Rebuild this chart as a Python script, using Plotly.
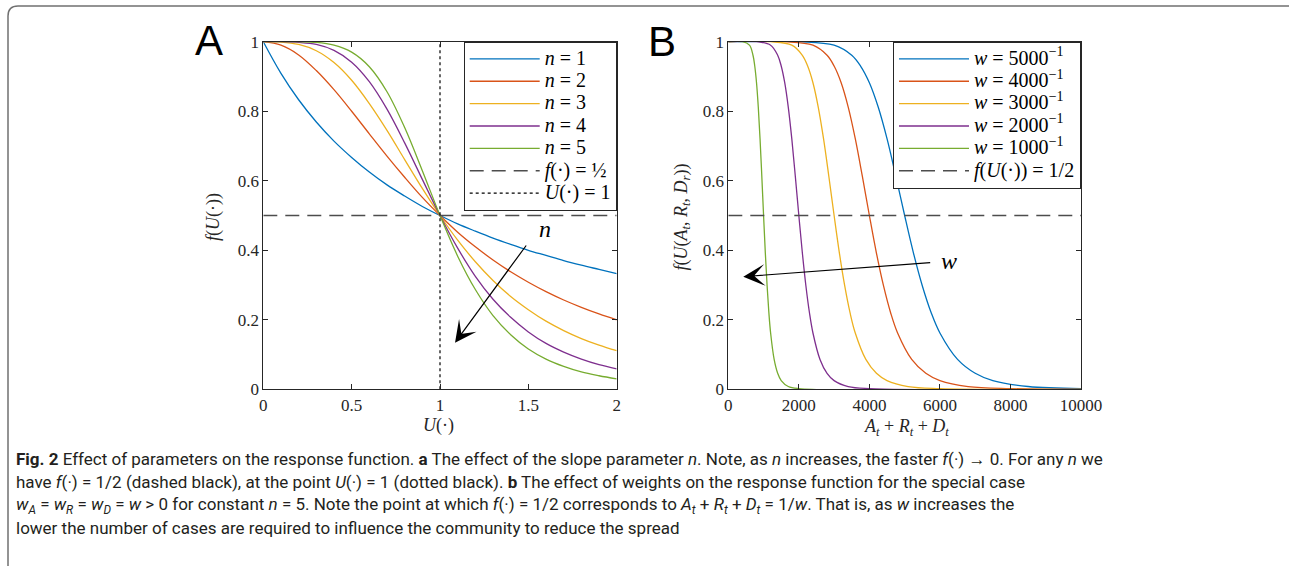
import plotly.graph_objects as go

# ---------------- data ----------------
U_vals = [0.0, 0.1, 0.2, 0.3, 0.4, 0.5, 0.6, 0.7, 0.8, 0.9, 1.0,
          1.1, 1.2, 1.3, 1.4, 1.5, 1.6, 1.7, 1.8, 1.9, 2.0]
f_n1 = [1.0, 0.909, 0.833, 0.769, 0.714, 0.667, 0.625, 0.588, 0.556, 0.526, 0.5,
        0.476, 0.455, 0.435, 0.417, 0.400, 0.385, 0.370, 0.357, 0.345, 0.333]
f_n2 = [1.0, 0.990, 0.962, 0.917, 0.862, 0.800, 0.735, 0.671, 0.610, 0.552, 0.5,
        0.452, 0.410, 0.372, 0.338, 0.308, 0.281, 0.257, 0.236, 0.217, 0.200]
f_n3 = [1.0, 0.999, 0.992, 0.974, 0.940, 0.889, 0.822, 0.745, 0.661, 0.578, 0.5,
        0.429, 0.367, 0.313, 0.267, 0.229, 0.196, 0.169, 0.146, 0.127, 0.111]
f_n4 = [1.0, 1.000, 0.998, 0.992, 0.975, 0.941, 0.885, 0.806, 0.709, 0.604, 0.5,
        0.406, 0.325, 0.259, 0.207, 0.165, 0.132, 0.107, 0.087, 0.071, 0.059]
f_n5 = [1.0, 1.000, 1.000, 0.998, 0.990, 0.970, 0.928, 0.856, 0.753, 0.629, 0.5,
        0.383, 0.287, 0.212, 0.157, 0.116, 0.087, 0.066, 0.050, 0.039, 0.030]
n_labels = ["<i>n</i> = 1", "<i>n</i> = 2", "<i>n</i> = 3", "<i>n</i> = 4", "<i>n</i> = 5"]

x_w5000 = [0, 2000, 3000, 3500, 3750, 4000, 4250, 4500, 4750, 5000,
           5250, 5500, 5750, 6000, 6500, 7000, 7500, 8500, 10000]
x_w4000 = [0, 1600, 2400, 2800, 3000, 3200, 3400, 3600, 3800, 4000,
           4200, 4400, 4600, 4800, 5200, 5600, 6000, 6800, 8000, 10000]
x_w3000 = [0, 1200, 1800, 2100, 2250, 2400, 2550, 2700, 2850, 3000,
           3150, 3300, 3450, 3600, 3900, 4200, 4500, 5100, 6000, 10000]
x_w2000 = [0, 800, 1200, 1400, 1500, 1600, 1700, 1800, 1900, 2000,
           2100, 2200, 2300, 2400, 2600, 2800, 3000, 3400, 4000, 10000]
x_w1000 = [0, 400, 600, 700, 750, 800, 850, 900, 950, 1000,
           1050, 1100, 1150, 1200, 1300, 1400, 1500, 1700, 2000, 10000]
f_w5000 = [1.0, 1.000, 0.990, 0.961, 0.930, 0.882, 0.812, 0.721, 0.613, 0.5,
           0.392, 0.298, 0.221, 0.162, 0.086, 0.046, 0.025, 0.008, 0.002]
f_w4000 = [1.0, 1.000, 0.990, 0.961, 0.930, 0.882, 0.812, 0.721, 0.613, 0.5,
           0.392, 0.298, 0.221, 0.162, 0.086, 0.046, 0.025, 0.008, 0.002, 0.0]
f_w3000 = [1.0, 1.000, 0.990, 0.961, 0.930, 0.882, 0.812, 0.721, 0.613, 0.5,
           0.392, 0.298, 0.221, 0.162, 0.086, 0.046, 0.025, 0.008, 0.002, 0.0]
f_w2000 = [1.0, 1.000, 0.990, 0.961, 0.930, 0.882, 0.812, 0.721, 0.613, 0.5,
           0.392, 0.298, 0.221, 0.162, 0.086, 0.046, 0.025, 0.008, 0.002, 0.0]
f_w1000 = [1.0, 1.000, 0.990, 0.961, 0.930, 0.882, 0.812, 0.721, 0.613, 0.5,
           0.392, 0.298, 0.221, 0.162, 0.086, 0.046, 0.025, 0.008, 0.002, 0.0]
w_labels = ["<i>w</i> = 5000<sup>−1</sup>", "<i>w</i> = 4000<sup>−1</sup>",
            "<i>w</i> = 3000<sup>−1</sup>", "<i>w</i> = 2000<sup>−1</sup>",
            "<i>w</i> = 1000<sup>−1</sup>"]

half_A_x = [0, 2]
half_A_y = [0.5, 0.5]
one_A_x = [1, 1]
one_A_y = [0, 1]
half_B_x = [0, 10000]
half_B_y = [0.5, 0.5]

xticks_A = [0, 0.5, 1, 1.5, 2]
xticks_A_text = ["0", "0.5", "1", "1.5", "2"]
yticks = [0, 0.2, 0.4, 0.6, 0.8, 1]
yticks_text = ["0", "0.2", "0.4", "0.6", "0.8", "1"]
xticks_B = [0, 2000, 4000, 6000, 8000, 10000]
xticks_B_text = ["0", "2000", "4000", "6000", "8000", "10000"]

colors = ["#0072BD", "#D95319", "#EDB120", "#7E2F8E", "#77AC30"]

# ---------------- figure ----------------
W, H = 1291, 566


def px(x):
    return x / W


def py(y):
    return 1 - y / H


def big(t):
    return f'<span style="font-size:20px">{t}</span>'


SERIF = "Liberation Serif, Times New Roman, serif"
SANS = "Roboto, Open Sans, sans-serif"
AXC = "#262626"

fig = go.Figure()

for ys, lab, c in zip([f_n1, f_n2, f_n3, f_n4, f_n5], n_labels, colors):
    fig.add_trace(go.Scatter(x=U_vals, y=ys, mode="lines", name=big(lab),
                             line=dict(color=c, width=1.3, shape="spline", smoothing=1),
                             xaxis="x", yaxis="y", legend="legend"))
fig.add_trace(go.Scatter(x=half_A_x, y=half_A_y, mode="lines",
                         name=big("<i>f</i>(·) = ½"),
                         line=dict(color="#4d4d4d", width=1.5, dash="14px,8px"),
                         xaxis="x", yaxis="y", legend="legend"))
fig.add_trace(go.Scatter(x=one_A_x, y=one_A_y, mode="lines",
                         name=big("<i>U</i>(·) = 1"),
                         line=dict(color="black", width=1.2, dash="dot"),
                         xaxis="x", yaxis="y", legend="legend"))

for xs, ys, lab, c in zip([x_w5000, x_w4000, x_w3000, x_w2000, x_w1000],
                          [f_w5000, f_w4000, f_w3000, f_w2000, f_w1000],
                          w_labels, colors):
    fig.add_trace(go.Scatter(x=xs, y=ys, mode="lines", name=big(lab),
                             line=dict(color=c, width=1.3, shape="spline", smoothing=1),
                             xaxis="x2", yaxis="y2", legend="legend2"))
fig.add_trace(go.Scatter(x=half_B_x, y=half_B_y, mode="lines",
                         name=big("<i>f</i>(<i>U</i>(·)) = 1/2"),
                         line=dict(color="#4d4d4d", width=1.5, dash="14px,8px"),
                         xaxis="x2", yaxis="y2", legend="legend2"))

axis_common = dict(showline=True, mirror="ticks", ticks="inside", ticklen=5,
                   tickwidth=1, tickcolor=AXC, linecolor=AXC, linewidth=1,
                   showgrid=False, zeroline=False, automargin=False,
                   tickfont=dict(family=SERIF, size=17, color=AXC))

legend_common = dict(bgcolor="white", bordercolor=AXC, borderwidth=1,
                     font=dict(family=SERIF, size=14.9, color="black"),
                     itemwidth=70, xanchor="right", yanchor="top",
                     tracegroupgap=0)

fig.update_layout(
    template="none",
    width=W, height=H, autosize=False,
    margin=dict(l=0, r=0, t=0, b=0, pad=0, autoexpand=False),
    paper_bgcolor="white", plot_bgcolor="white",
    xaxis=dict(domain=[px(263.3), px(616.7)], range=[0, 2], anchor="y",
               tickvals=xticks_A, ticktext=xticks_A_text, **axis_common),
    yaxis=dict(domain=[py(389.3), py(41.7)], range=[0, 1], anchor="x",
               tickvals=yticks, ticktext=yticks_text, **axis_common),
    xaxis2=dict(domain=[px(728.3), px(1081)], range=[0, 10000], anchor="y2",
                tickvals=xticks_B, ticktext=xticks_B_text, **axis_common),
    yaxis2=dict(domain=[py(389.3), py(41.7)], range=[0, 1], anchor="x2",
                tickvals=yticks, ticktext=yticks_text, **axis_common),
    legend=dict(x=px(616.7), y=py(41.7), **legend_common),
    legend2=dict(x=px(1081), y=py(41.7), **legend_common),
    showlegend=True,
)

ann = []
ann.append(dict(x=1.085, y=0.134, ax=1.494, ay=0.418, xref="x", yref="y",
                axref="x", ayref="y", text="", showarrow=True, arrowhead=3,
                arrowsize=3, arrowwidth=1.2, arrowcolor="black"))
ann.append(dict(x=1.594, y=0.46, xref="x", yref="y", text="<i>n</i>",
                xanchor="center", yanchor="middle",
                showarrow=False, font=dict(family=SERIF, size=24, color="black")))
ann.append(dict(x=425, y=0.324, ax=5767, ay=0.365, xref="x2", yref="y2",
                axref="x2", ayref="y2", text="", showarrow=True, arrowhead=3,
                arrowsize=3, arrowwidth=1.2, arrowcolor="black"))
ann.append(dict(x=6266, y=0.369, xref="x2", yref="y2", text="<i>w</i>",
                xanchor="center", yanchor="middle",
                showarrow=False, font=dict(family=SERIF, size=24, color="black")))
for lx, ly, lt in [(209, 41, "A"), (661.5, 42, "B")]:
    ann.append(dict(x=px(lx), y=py(ly), xref="paper", yref="paper", text=lt,
                    xanchor="center", yanchor="middle", showarrow=False,
                    font=dict(family="Liberation Sans, Arial, sans-serif",
                              size=42, color="black")))
ann.append(dict(x=px(213), y=py(217), xref="paper", yref="paper",
                text="<i>f</i>(<i>U</i>(·))", textangle=-90, showarrow=False,
                xanchor="center", yanchor="middle",
                font=dict(family=SERIF, size=18, color=AXC)))
ann.append(dict(x=px(681.5), y=py(217), xref="paper", yref="paper",
                text="<i>f</i>(<i>U</i>(<i>A<sub>t</sub></i>, <i>R<sub>t</sub></i>, <i>D<sub>r</sub></i>))",
                textangle=-90, showarrow=False, xanchor="center", yanchor="middle",
                font=dict(family=SERIF, size=18, color=AXC)))
ann.append(dict(x=px(438), y=py(425), xref="paper", yref="paper",
                text="<i>U</i>(·)", showarrow=False, xanchor="center", yanchor="middle",
                font=dict(family=SERIF, size=18, color=AXC)))
ann.append(dict(x=px(906.7), y=py(427), xref="paper", yref="paper",
                text="<i>A<sub>t</sub></i> + <i>R<sub>t</sub></i> + <i>D<sub>t</sub></i>",
                showarrow=False, xanchor="center", yanchor="middle",
                font=dict(family=SERIF, size=18, color=AXC)))

caption_lines = [
    "<b>Fig. 2</b> Effect of parameters on the response function. <b>a</b> The effect of the slope parameter <i>n</i>. "
    "Note, as <i>n</i> increases, the faster <i>f</i>(·) → 0. For any <i>n</i> we",
    "have <i>f</i>(·) = 1/2 (dashed black), at the point <i>U</i>(·) = 1 (dotted black). <b>b</b> The effect of weights "
    "on the response function for the special case",
    "<i>w<sub>A</sub></i> = <i>w<sub>R</sub></i> = <i>w<sub>D</sub></i> = <i>w</i> > 0 for constant <i>n</i> = 5. "
    "Note the point at which <i>f</i>(·) = 1/2 corresponds to <i>A<sub>t</sub></i> + <i>R<sub>t</sub></i> + "
    "<i>D<sub>t</sub></i> = 1/<i>w</i>. That is, as <i>w</i> increases the",
    "lower the number of cases are required to influence the community to reduce the spread",
]
for i, line in enumerate(caption_lines):
    ann.append(dict(x=px(14), y=py(458.5 + 23.3 * i), xref="paper", yref="paper",
                    xanchor="left", yanchor="middle", text=line, showarrow=False,
                    font=dict(family=SANS, size=17, color="#231f20")))

fig.update_layout(annotations=ann)

fig.add_shape(type="path",
              path=f"M {px(1289)},{py(6)} L {px(18)},{py(6)} Q {px(8)},{py(6)} {px(8)},{py(16)} L {px(8)},{py(566)}",
              xref="paper", yref="paper", line=dict(color="#707070", width=1.5))

fig.write_html("out.html", config={"displayModeBar": False},
               post_script="document.body.style.margin='0px';document.documentElement.style.overflow='hidden';")
